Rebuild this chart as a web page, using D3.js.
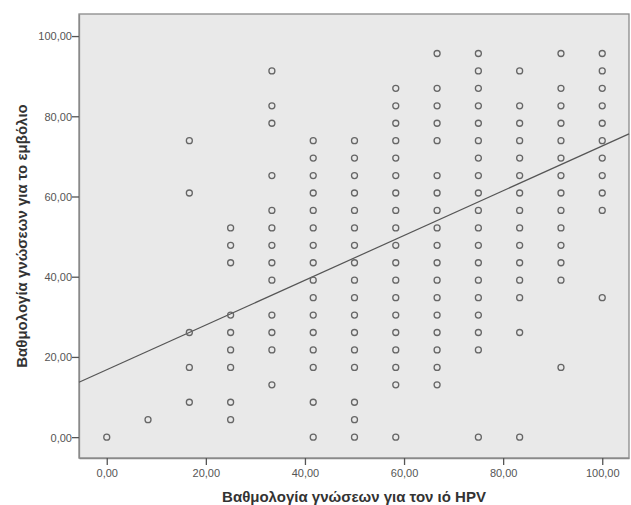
<!DOCTYPE html>
<html>
<head>
<meta charset="utf-8">
<script src="https://cdn.jsdelivr.net/npm/d3@7"></script>
<style>
  body { margin: 0; background: #fff; }
  text { font-family: "Liberation Sans", Arial, sans-serif; }
</style>
</head>
<body>
<div id="chart"></div>
<script>
// HPV knowledge score (x) and the vaccine knowledge scores seen at each x
var xScores = [0, 8.33, 16.67, 25, 33.33, 41.67, 50, 58.33, 66.67, 75, 83.33, 91.67, 100];
var yByX = [
  [0],
  [4.35],
  [8.7, 17.39, 26.09, 60.87, 73.91],
  [4.35, 8.7, 17.39, 21.74, 26.09, 30.43, 43.48, 47.83, 52.17],
  [13.04, 21.74, 26.09, 30.43, 39.13, 43.48, 47.83, 52.17, 56.52, 65.22, 78.26, 82.61, 91.3],
  [0, 8.7, 17.39, 21.74, 26.09, 30.43, 34.78, 39.13, 43.48, 47.83, 52.17, 56.52, 60.87, 65.22, 69.57, 73.91],
  [0, 4.35, 8.7, 17.39, 21.74, 26.09, 30.43, 34.78, 39.13, 43.48, 47.83, 52.17, 56.52, 60.87, 65.22, 69.57, 73.91],
  [0, 13.04, 17.39, 21.74, 26.09, 30.43, 34.78, 39.13, 43.48, 47.83, 52.17, 56.52, 60.87, 65.22, 69.57, 73.91, 78.26, 82.61, 86.96],
  [13.04, 17.39, 21.74, 26.09, 30.43, 34.78, 39.13, 43.48, 47.83, 52.17, 56.52, 60.87, 65.22, 73.91, 78.26, 82.61, 86.96, 95.65],
  [0, 21.74, 26.09, 30.43, 34.78, 39.13, 43.48, 47.83, 52.17, 56.52, 60.87, 65.22, 69.57, 73.91, 78.26, 82.61, 86.96, 91.3, 95.65],
  [0, 26.09, 34.78, 39.13, 43.48, 47.83, 52.17, 56.52, 60.87, 65.22, 69.57, 73.91, 78.26, 82.61, 91.3],
  [17.39, 39.13, 43.48, 47.83, 52.17, 56.52, 60.87, 65.22, 69.57, 73.91, 78.26, 82.61, 86.96, 95.65],
  [34.78, 56.52, 60.87, 65.22, 69.57, 73.91, 78.26, 82.61, 86.96, 91.3, 95.65]
];
var tickValues = [0, 20, 40, 60, 80, 100];
// fit line
var fitIntercept = 16.8;
var fitSlope = 0.558;

var xTitle = "Βαθμολογία γνώσεων για τον ιό HPV";
var yTitle = "Βαθμολογία γνώσεων για το εμβόλιο";

var width = 631, height = 505;
var margin = { top: 14, right: 2, bottom: 47, left: 79 };

var points = [];
xScores.forEach(function(xv, i) {
  yByX[i].forEach(function(yv) { points.push({ x: xv, y: yv }); });
});

var x = d3.scaleLinear().domain([-5.6, 105.4]).range([margin.left, width - margin.right]);
var y = d3.scaleLinear().domain([-5.2, 105.5]).range([height - margin.bottom, margin.top]);

var svg = d3.select("#chart").append("svg")
    .attr("width", width)
    .attr("height", height);

// plot background
svg.append("rect")
    .attr("x", margin.left).attr("y", margin.top)
    .attr("width", width - margin.left - margin.right)
    .attr("height", height - margin.top - margin.bottom)
    .style("fill", "#e9e9e9")
    .style("stroke", "#8a8a8a")
    .style("stroke-width", 1.3);

// axes
var fmt = function(d) { return d3.format(".2f")(d).replace(".", ","); };
var xAxis = svg.append("g")
    .attr("transform", "translate(0," + (height - margin.bottom) + ")")
    .call(d3.axisBottom(x).tickValues(tickValues).tickSize(7).tickSizeOuter(0).tickFormat(fmt));
var yAxis = svg.append("g")
    .attr("transform", "translate(" + margin.left + ",0)")
    .call(d3.axisLeft(y).tickValues(tickValues).tickSize(7).tickSizeOuter(0).tickFormat(fmt));

[xAxis, yAxis].forEach(function(g) {
  g.select(".domain").style("stroke", "#8a8a8a").style("stroke-width", 1.3);
  g.selectAll(".tick line").style("stroke", "#555").style("stroke-width", 1.3);
  g.selectAll(".tick text")
    .style("font-family", "'Liberation Sans', Arial, sans-serif")
    .style("font-size", "11px")
    .style("fill", "#555");
});
yAxis.selectAll(".tick text").attr("x", -7).attr("dy", "0.35em");
xAxis.selectAll(".tick text").attr("y", 11);

// fit line across the whole plot
var xd = x.domain();
svg.append("line")
    .attr("x1", x(xd[0])).attr("y1", y(fitIntercept + fitSlope * xd[0]))
    .attr("x2", x(xd[1])).attr("y2", y(fitIntercept + fitSlope * xd[1]))
    .style("stroke", "#555")
    .style("stroke-width", 1.2);

// points
svg.append("g").selectAll("circle")
    .data(points)
  .enter().append("circle")
    .attr("cx", function(d) { return x(d.x); })
    .attr("cy", function(d) { return y(d.y); })
    .attr("r", 3)
    .style("fill", "none")
    .style("stroke", "#666")
    .style("stroke-width", 1.3);

// axis titles
svg.append("text")
    .attr("x", (margin.left + width - margin.right) / 2)
    .attr("y", 502)
    .attr("text-anchor", "middle")
    .style("font-size", "15px")
    .style("font-weight", "bold")
    .style("fill", "#333")
    .text(xTitle);

svg.append("text")
    .attr("transform", "translate(27," + ((margin.top + height - margin.bottom) / 2) + ") rotate(-90)")
    .attr("text-anchor", "middle")
    .style("font-size", "15px")
    .style("font-weight", "bold")
    .style("fill", "#333")
    .text(yTitle);
</script>
</body>
</html>
